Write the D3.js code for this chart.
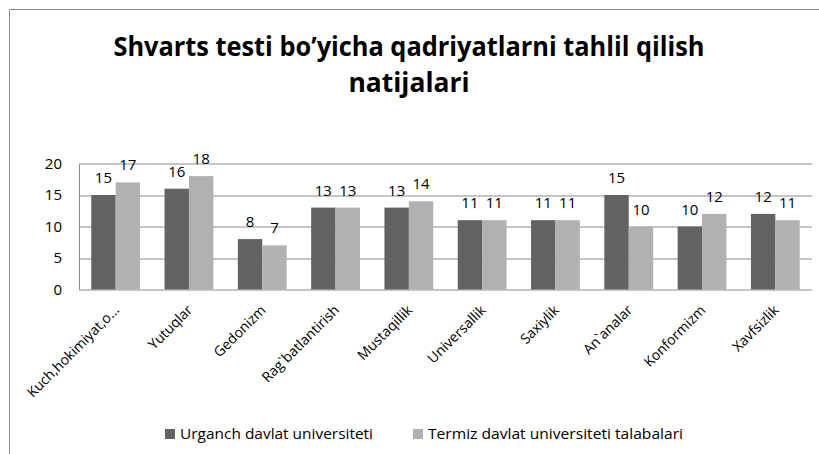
<!DOCTYPE html>
<html>
<head>
<meta charset="utf-8">
<script src="https://cdn.jsdelivr.net/npm/d3@7"></script>
<style>
  body { margin: 0; background: #fff; }
  svg text { font-family: "Open Sans", "Noto Sans", sans-serif; fill: #000; }
</style>
</head>
<body>
<div id="chart"></div>
<script>
// Categories and series values
const categories = ["Kuch,hokimiyat,o...", "Yutuqlar", "Gedonizm", "Rag`batlantirish", "Mustaqillik",
                    "Universallik", "Saxiylik", "An`analar", "Konformizm", "Xavfsizlik"];
const urganch = [15, 16, 8, 13, 13, 11, 11, 15, 10, 12];
const termiz  = [17, 18, 7, 13, 14, 11, 11, 10, 12, 11];
const seriesNames = ["Urganch davlat universiteti", "Termiz davlat universiteti talabalari"];
const yTicks = [0, 5, 10, 15, 20];
const titleLines = ["Shvarts testi bo’yicha qadriyatlarni tahlil qilish", "natijalari"];

const colors = ["#626262", "#b1b1b1"];
const width = 819, height = 454;
const margin = {top: 163.5, right: 7, bottom: 164.5, left: 79};
const plotW = width - margin.left - margin.right;
const plotH = height - margin.top - margin.bottom;

const svg = d3.select("#chart").append("svg")
    .attr("width", width)
    .attr("height", height);

// Outer chart border (cropped at right and bottom)
svg.append("path")
    .attr("d", "M9.5," + height + "V9.5H" + width)
    .attr("fill", "none")
    .attr("stroke", "#8c8c8c")
    .attr("stroke-width", 1);

// Title
svg.append("g").selectAll("text")
    .data(titleLines)
    .enter()
  .append("text")
    .attr("x", 409)
    .attr("y", (d, i) => 56 + i * 36)
    .attr("text-anchor", "middle")
    .attr("font-size", 26)
    .attr("font-weight", "bold")
    .attr("textLength", (d, i) => i === 0 ? 591 : 121)
    .attr("lengthAdjust", "spacingAndGlyphs")
    .text(d => d);

const g = svg.append("g")
    .attr("transform", "translate(" + margin.left + "," + margin.top + ")");

const x0 = d3.scaleBand().domain(categories).range([0, plotW]).paddingInner(0).paddingOuter(0);
const x1 = d3.scaleBand().domain([0, 1]).range([x0.bandwidth() * 0.167, x0.bandwidth() * 0.833]);
const y = d3.scaleLinear().domain([0, 20]).range([plotH, 0]);

// Gridlines
g.append("g").selectAll("line")
    .data(yTicks)
    .enter()
  .append("line")
    .attr("x1", 0).attr("x2", plotW)
    .attr("y1", d => Math.round(y(d)) + 0.5).attr("y2", d => Math.round(y(d)) + 0.5)
    .attr("stroke", "#8c8c8c");

// Left axis line
g.append("line")
    .attr("x1", 0.5).attr("x2", 0.5)
    .attr("y1", Math.round(y(20)) + 0.5).attr("y2", Math.round(y(0)) + 0.5)
    .attr("stroke", "#8c8c8c");

// Y tick labels
g.append("g").selectAll("text")
    .data(yTicks)
    .enter()
  .append("text")
    .attr("x", -17)
    .attr("y", d => y(d))
    .attr("dy", "0.35em")
    .attr("text-anchor", "end")
    .attr("font-size", 15)
    .text(d => d);

// Bars
const series = [urganch, termiz];
series.forEach(function(vals, s) {
    g.append("g").selectAll("rect")
        .data(vals)
        .enter()
      .append("rect")
        .attr("x", (d, i) => x0(categories[i]) + x1(s))
        .attr("y", d => y(d))
        .attr("width", x1.bandwidth())
        .attr("height", d => plotH - y(d))
        .attr("fill", colors[s]);

    // Data labels
    g.append("g").selectAll("text")
        .data(vals)
        .enter()
      .append("text")
        .attr("x", (d, i) => x0(categories[i]) + x1(s) + x1.bandwidth() / 2)
        .attr("y", d => y(d) - 12)
        .attr("text-anchor", "middle")
        .attr("font-size", 15)
        .text(d => d);
});

// X axis labels, rotated
g.append("g").selectAll("text")
    .data(categories)
    .enter()
  .append("text")
    .attr("transform", d => "translate(" + (x0(d) + x0.bandwidth() / 2 + 1) + "," + (plotH + 18) + ") rotate(-45)")
    .attr("text-anchor", "end")
    .attr("dy", "0.35em")
    .attr("font-size", 14)
    .text(d => d);

// Legend
const legendX = [165, 413];
const legend = svg.append("g").selectAll("g")
    .data(seriesNames)
    .enter()
  .append("g")
    .attr("transform", (d, i) => "translate(" + legendX[i] + ",434)");
legend.append("rect")
    .attr("x", 0).attr("y", -5)
    .attr("width", 10).attr("height", 10)
    .attr("fill", (d, i) => colors[i]);
legend.append("text")
    .attr("x", 15)
    .attr("dy", "0.35em")
    .attr("font-size", 15)
    .attr("textLength", (d, i) => i === 0 ? 193 : 255)
    .attr("lengthAdjust", "spacingAndGlyphs")
    .text(d => d);
</script>
</body>
</html>
